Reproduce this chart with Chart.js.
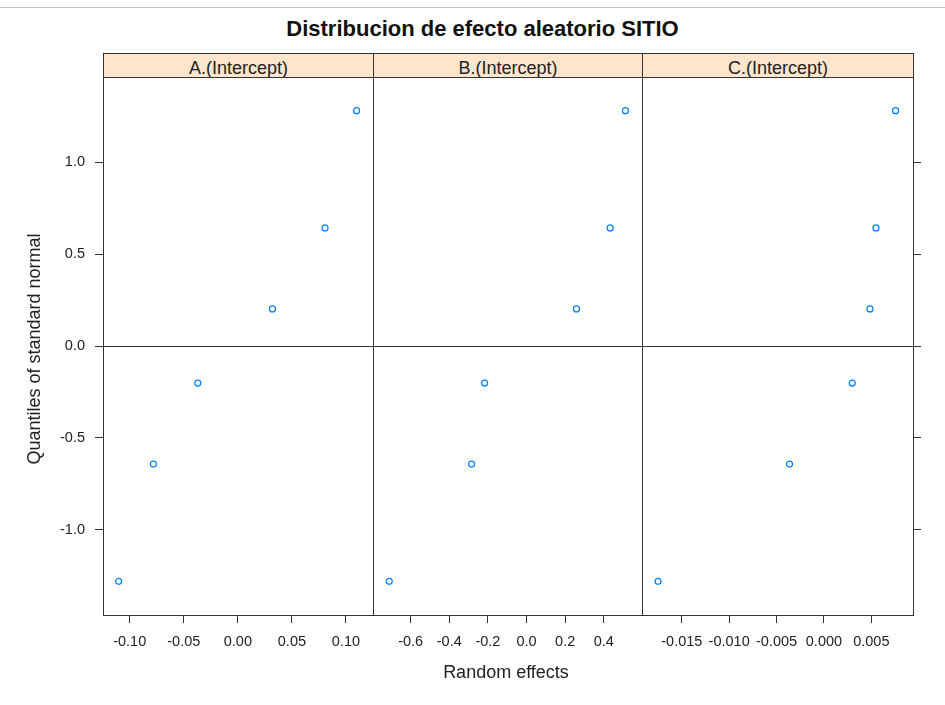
<!DOCTYPE html>
<html lang="es">
<head>
<meta charset="utf-8">
<title>Distribucion de efecto aleatorio SITIO</title>
<script src="https://cdn.jsdelivr.net/npm/chart.js@4/dist/chart.umd.min.js"></script>
<style>
  html, body { margin: 0; padding: 0; background: #fff; }
  #lienzo { position: relative; width: 945px; height: 705px; overflow: hidden;
            font-family: 'Liberation Sans', Arial, sans-serif; color: #222; }
  #lienzo canvas { position: absolute; left: 0; top: 0; }
  .borde-sup { position: absolute; left: 0; top: 7px; width: 945px; border-top: 1px solid #c4c4c4; }
  .titulo { position: absolute; left: 0; width: 965px; top: 17px; line-height: 24px;
            font-size: 22px; font-weight: bold; text-align: center; color: #111; }
  .tira { position: absolute; top: 53px; height: 25px; box-sizing: border-box;
          background: #ffe5cc; border: 1px solid #333; text-align: center;
          font-size: 18px; line-height: 28px; color: #222; }
  .eje-x { position: absolute; left: 306px; width: 400px; top: 661px; line-height: 22px;
           font-size: 18px; text-align: center; }
  .eje-y { position: absolute; left: -166px; width: 400px; top: 338px; line-height: 22px;
           font-size: 18px; text-align: center; transform: rotate(-90deg); }
</style>
</head>
<body>
<div id="lienzo">
  <div class="borde-sup"></div>
  <div class="titulo">Distribucion de efecto aleatorio SITIO</div>
  <div class="tira" style="left:103px; width:271px;">A.(Intercept)</div>
  <div class="tira" style="left:373px; width:270px;">B.(Intercept)</div>
  <div class="tira" style="left:642px; width:272px;">C.(Intercept)</div>
  <canvas id="panelA" width="945" height="705"></canvas>
  <canvas id="panelB" width="945" height="705"></canvas>
  <canvas id="panelC" width="945" height="705"></canvas>
  <div class="eje-x">Random effects</div>
  <div class="eje-y">Quantiles of standard normal</div>
</div>
<script>
// Cuantiles de la normal estandar (eje y comun a los tres paneles)
const quantiles = [-1.2816, -0.6433, -0.2019, 0.2019, 0.6433, 1.2816];

// Efectos aleatorios por SITIO, ordenados
const effectsA = [-0.1102, -0.0781, -0.0370, 0.0320, 0.0806, 0.1098];
const effectsB = [-0.711, -0.284, -0.217, 0.2585, 0.433, 0.512];
const effectsC = [-0.01751, -0.00363, 0.00299, 0.00486, 0.00549, 0.00756];

// Ticks y etiquetas
const yTicks = [-1, -0.5, 0, 0.5, 1];
const yLabels = ['-1.0', '-0.5', '0.0', '0.5', '1.0'];
const ticksA = [-0.10, -0.05, 0, 0.05, 0.10];
const labelsA = ['-0.10', '-0.05', '0.00', '0.05', '0.10'];
const ticksB = [-0.6, -0.4, -0.2, 0, 0.2, 0.4];
const labelsB = ['-0.6', '-0.4', '-0.2', '0.0', '0.2', '0.4'];
const ticksC = [-0.015, -0.010, -0.005, 0, 0.005];
const labelsC = ['-0.015', '-0.010', '-0.005', '0.000', '0.005'];

// Rangos de los ejes
const yLimits = [-1.465, 1.465];
const limitsA = [-0.1247, 0.1250];
const limitsB = [-0.795, 0.598];
const limitsC = [-0.0192, 0.0094];

const FONT = "'Liberation Sans', Arial, sans-serif";
const LINEA = '#333';

// marco del panel + linea de referencia en y = 0
const marcoPanel = {
    id: 'marcoPanel',
    beforeDatasetsDraw(chart) {
        const { ctx, chartArea: a, scales } = chart;
        ctx.save();
        ctx.strokeStyle = LINEA;
        ctx.lineWidth = 1;
        const y0 = Math.round(scales.y.getPixelForValue(0)) + 0.5;
        ctx.beginPath();
        ctx.moveTo(a.left, y0);
        ctx.lineTo(a.right, y0);
        ctx.stroke();
        ctx.strokeRect(a.left + 0.5, a.top + 0.5, a.right - a.left, a.bottom - a.top);
        ctx.restore();
    }
};

function grid() {
    return { display: true, drawOnChartArea: false, drawTicks: true, tickLength: 8, color: LINEA, lineWidth: 1 };
}

function fixedTicks(values) {
    return scale => { scale.ticks = values.map(v => ({ value: v })); };
}

const anchoEjeY = { left: 63, right: 32, none: 0 };

function crearPanel(id, effects, xLimits, xTicks, xLabels, side, padding) {
    const yScale = {
        type: 'linear',
        min: yLimits[0],
        max: yLimits[1],
        display: side !== 'none',
        position: side === 'right' ? 'right' : 'left',
        border: { display: false },
        grid: grid(),
        afterBuildTicks: fixedTicks(yTicks),
        afterFit: s => { s.width = anchoEjeY[side]; },
        ticks: {
            display: side === 'left',
            padding: 10,
            color: '#222',
            font: { family: FONT, size: 14.5 },
            callback: (v, i) => yLabels[i]
        }
    };

    return new Chart(document.getElementById(id), {
        type: 'scatter',
        data: {
            datasets: [{
                data: effects.map((x, i) => ({ x: x, y: quantiles[i] })),
                pointStyle: 'circle',
                pointRadius: 3,
                pointHoverRadius: 3,
                pointBorderWidth: 1.2,
                pointBorderColor: '#0080ff',
                pointBackgroundColor: 'rgba(0,0,0,0)'
            }]
        },
        options: {
            responsive: false,
            animation: false,
            events: [],
            layout: { padding: padding },
            plugins: { legend: { display: false }, tooltip: { enabled: false } },
            scales: {
                x: {
                    type: 'linear',
                    min: xLimits[0],
                    max: xLimits[1],
                    position: 'bottom',
                    border: { display: false },
                    grid: grid(),
                    afterBuildTicks: fixedTicks(xTicks),
                    afterFit: s => { s.height = 90; },
                    ticks: {
                        padding: 10,
                        maxRotation: 0,
                        autoSkip: false,
                        color: '#222',
                        font: { family: FONT, size: 14.5 },
                        callback: (v, i) => xLabels[i]
                    }
                },
                y: yScale
            }
        },
        plugins: [marcoPanel]
    });
}

crearPanel('panelA', effectsA, limitsA, ticksA, labelsA, 'left', { left: 40, right: 945 - 373, top: 77, bottom: 0 });
crearPanel('panelB', effectsB, limitsB, ticksB, labelsB, 'none', { left: 373, right: 945 - 642, top: 77, bottom: 0 });
crearPanel('panelC', effectsC, limitsC, ticksC, labelsC, 'right', { left: 642, right: 0, top: 77, bottom: 0 });
</script>
</body>
</html>
